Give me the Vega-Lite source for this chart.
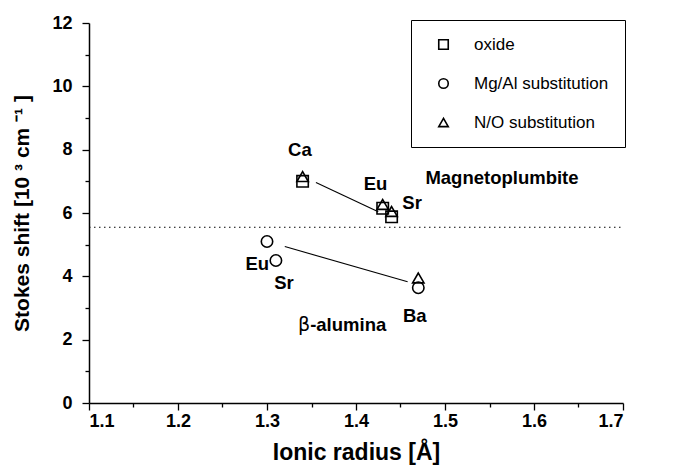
{
  "$schema": "https://vega.github.io/schema/vega-lite/v6.json",
  "autosize": "none",
  "width": 534,
  "height": 380,
  "padding": {"left": 89, "top": 23, "right": 51, "bottom": 68},
  "background": "white",
  "config": {
    "view": {"stroke": null},
    "font": "Liberation Sans",
    "axis": {
      "grid": false,
      "domainColor": "black",
      "domainWidth": 1.5,
      "tickColor": "black",
      "tickWidth": 1.3,
      "labelColor": "black",
      "labelFont": "Liberation Sans",
      "labelFontWeight": "bold",
      "labelFontSize": 18,
      "titleFont": "Liberation Sans",
      "titleFontWeight": "bold",
      "titleColor": "black"
    },
    "legend": {
      "labelFont": "Liberation Sans",
      "labelFontSize": 17,
      "labelColor": "black"
    }
  },
  "resolve": {"axis": {"x": "independent", "y": "independent"}},
  "layer": [
    {
      "data": {"values": [{"y": 5.55, "x1": 1.1, "x2": 1.7}]},
      "mark": {"type": "rule", "strokeDash": [1.5, 3.5], "color": "black", "strokeWidth": 1},
      "encoding": {
        "x": {"field": "x1", "type": "quantitative", "scale": {"domain": [1.1, 1.7], "nice": false, "zero": false},
          "axis": {"orient": "bottom", "values": [1.15, 1.25, 1.35, 1.45, 1.55, 1.65], "labels": false, "domain": false, "tickSize": 4, "title": null}},
        "x2": {"field": "x2"},
        "y": {"field": "y", "type": "quantitative", "scale": {"domain": [0, 12], "nice": false, "zero": false},
          "axis": {"orient": "left", "values": [1, 3, 5, 7, 9, 11], "labels": false, "domain": false, "tickSize": 4, "title": null}}
      }
    },
    {
      "data": {"values": [
        {"xa": 1.355, "ya": 6.96, "xb": 1.425, "yb": 6.04},
        {"xa": 1.32, "ya": 4.94, "xb": 1.458, "yb": 3.83}
      ]},
      "mark": {"type": "rule", "color": "black", "strokeWidth": 1.1},
      "encoding": {
        "x": {"field": "xa", "type": "quantitative", "axis": null},
        "y": {"field": "ya", "type": "quantitative", "axis": null},
        "x2": {"field": "xb"},
        "y2": {"field": "yb"}
      }
    },
    {
      "data": {"values": [
        {"series": "oxide", "ion": "Ca", "radius": 1.34, "shift": 7.0},
        {"series": "oxide", "ion": "Eu", "radius": 1.43, "shift": 6.15},
        {"series": "oxide", "ion": "Sr", "radius": 1.44, "shift": 5.88},
        {"series": "N/O substitution", "ion": "Ca", "radius": 1.34, "shift": 7.15},
        {"series": "N/O substitution", "ion": "Eu", "radius": 1.43, "shift": 6.27},
        {"series": "N/O substitution", "ion": "Sr", "radius": 1.44, "shift": 6.05},
        {"series": "N/O substitution", "ion": "Ba", "radius": 1.47, "shift": 3.95},
        {"series": "Mg/Al substitution", "ion": "Eu", "radius": 1.30, "shift": 5.1},
        {"series": "Mg/Al substitution", "ion": "Sr", "radius": 1.31, "shift": 4.5},
        {"series": "Mg/Al substitution", "ion": "Ba", "radius": 1.47, "shift": 3.64}
      ]},
      "mark": {"type": "point", "filled": false, "color": "black", "opacity": 1, "size": 130, "strokeWidth": 1.6},
      "encoding": {
        "x": {"field": "radius", "type": "quantitative",
          "axis": {"orient": "bottom", "values": [1.1, 1.2, 1.3, 1.4, 1.5, 1.6, 1.7], "tickSize": 7, "labelPadding": 2, "title": "Ionic radius [Å]", "titleFontSize": 23, "titlePadding": 11, "format": ".1f"}},
        "y": {"field": "shift", "type": "quantitative",
          "axis": {"orient": "left", "values": [0, 2, 4, 6, 8, 10, 12], "tickSize": 7, "labelPadding": 10, "title": "Stokes shift [10 ³ cm ⁻¹ ]", "titleFontSize": 21, "titlePadding": 19}},
        "shape": {"field": "series", "type": "nominal",
          "scale": {"domain": ["oxide", "Mg/Al substitution", "N/O substitution"], "range": ["square", "circle", "triangle-up"]},
          "legend": {
            "title": null, "orient": "none", "legendX": 322, "legendY": -3,
            "strokeColor": "black", "fillColor": "white", "padding": 16,
            "rowPadding": 21, "symbolSize": 90, "symbolStrokeColor": "black", "symbolFillColor": "white",
            "symbolOpacity": 1, "symbolStrokeWidth": 1.6, "labelOffset": 22, "symbolOffset": 8, "labelLimit": 300
          }
        }
      }
    },
    {
      "data": {"values": [
        {"t": "Ca", "x": 1.337, "y": 8.0},
        {"t": "Eu", "x": 1.422, "y": 6.93},
        {"t": "Sr", "x": 1.463, "y": 6.33},
        {"t": "Eu", "x": 1.289, "y": 4.4},
        {"t": "Sr", "x": 1.319, "y": 3.8},
        {"t": "Ba", "x": 1.466, "y": 2.75}
      ]},
      "mark": {"type": "text", "fontSize": 18.5, "fontWeight": "bold", "color": "black", "font": "Liberation Sans"},
      "encoding": {
        "x": {"field": "x", "type": "quantitative", "axis": null},
        "y": {"field": "y", "type": "quantitative", "axis": null},
        "text": {"field": "t"}
      }
    },
    {
      "data": {"values": [{"t": "β", "x": 1.3416, "y": 2.45}]},
      "mark": {"type": "text", "fontSize": 19, "fontWeight": "normal", "color": "black", "font": "DejaVu Sans", "align": "center"},
      "encoding": {
        "x": {"field": "x", "type": "quantitative", "axis": null},
        "y": {"field": "y", "type": "quantitative", "axis": null},
        "text": {"field": "t"}
      }
    },
    {
      "data": {"values": [
        {"t": "-alumina", "x": 1.3485, "y": 2.45},
        {"t": "Magnetoplumbite", "x": 1.478, "y": 7.1}
      ]},
      "mark": {"type": "text", "fontSize": 18.5, "fontWeight": "bold", "color": "black", "align": "left", "font": "Liberation Sans"},
      "encoding": {
        "x": {"field": "x", "type": "quantitative", "axis": null},
        "y": {"field": "y", "type": "quantitative", "axis": null},
        "text": {"field": "t"}
      }
    }
  ]
}
